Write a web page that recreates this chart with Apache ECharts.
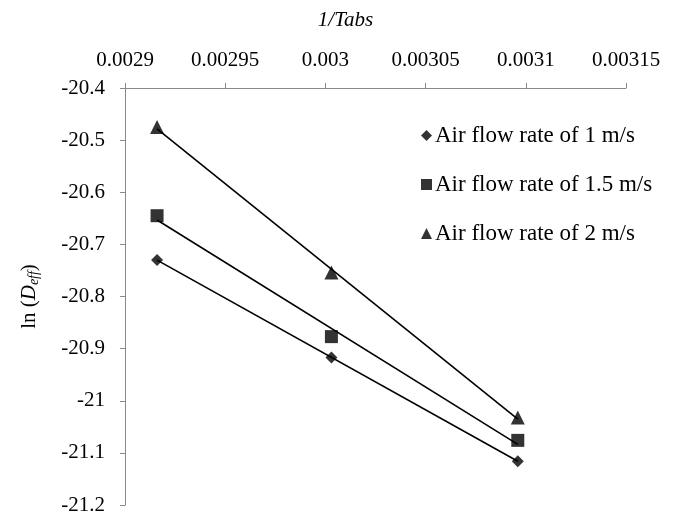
<!DOCTYPE html>
<html>
<head>
<meta charset="utf-8">
<script src="https://cdn.jsdelivr.net/npm/echarts@6/dist/echarts.min.js"></script>
<style>
html,body{margin:0;padding:0;background:#fff;}
#chart{width:677px;height:519px;}
</style>
</head>
<body>
<div id="chart"></div>
<script>
// 1/Tabs values (x)
const xValues = [0.002916, 0.003003, 0.003096];
// ln(Deff) values per air flow rate
const flow1 = [-20.730, -20.917, -21.116];
const flow15 = [-20.645, -20.877, -21.076];
const flow2 = [-20.475, -20.754, -21.032];
const seriesNames = ['Air flow rate of 1 m/s', 'Air flow rate of 1.5 m/s', 'Air flow rate of 2 m/s'];
const seriesSymbols = ['diamond', 'rect', 'triangle'];
const symbolSizes = [12, 13, 14];
const xMin = 0.0029, xMax = 0.00315, xStep = 0.00005;
const yMin = -21.2, yMax = -20.4, yStep = 0.1;

const allY = [flow1, flow15, flow2];

function fit(xs, ys) {
  const n = xs.length;
  const mx = xs.reduce((a, b) => a + b, 0) / n;
  const my = ys.reduce((a, b) => a + b, 0) / n;
  let sxy = 0, sxx = 0;
  for (let i = 0; i < n; i++) { sxy += (xs[i] - mx) * (ys[i] - my); sxx += (xs[i] - mx) * (xs[i] - mx); }
  const b = sxy / sxx;
  const a = my - b * mx;
  return x => a + b * x;
}

const fontFam = '"Liberation Serif", "Times New Roman", serif';
const series = [];
allY.forEach((ys, i) => {
  const f = fit(xValues, ys);
  const x0 = xValues[0], x1 = xValues[xValues.length - 1];
  series.push({
    type: 'line',
    data: [[x0, f(x0)], [x1, f(x1)]],
    showSymbol: false,
    symbol: 'none',
    lineStyle: { color: '#000', width: 1.6 },
    silent: true,
    z: 2
  });
});
allY.forEach((ys, i) => {
  series.push({
    name: seriesNames[i],
    type: 'scatter',
    symbol: seriesSymbols[i],
    symbolSize: symbolSizes[i],
    itemStyle: { color: '#000' },
    data: xValues.map((x, j) => [x, ys[j]]),
    z: 3
  });
});

const chart = echarts.init(document.getElementById('chart'));
chart.setOption({
  animation: false,
  backgroundColor: '#fff',
  textStyle: { fontFamily: fontFam },
  grid: { left: 125, right: 51, top: 88, bottom: 14, containLabel: false },
  legend: {
    orient: 'vertical',
    left: 416,
    top: 119,
    itemGap: 26,
    itemWidth: 11,
    itemHeight: 11,
    data: seriesNames.map((n, i) => ({ name: n, icon: seriesSymbols[i] })),
    textStyle: { fontFamily: fontFam, fontSize: 23, color: '#000', padding: [0, 0, 0, -2] }
  },
  xAxis: {
    type: 'value',
    position: 'top',
    min: xMin, max: xMax, interval: xStep,
    name: '1/Tabs',
    nameLocation: 'middle',
    nameGap: 57,
    nameTextStyle: { fontFamily: fontFam, fontSize: 21, fontStyle: 'italic', color: '#000', padding: [0, 60, 0, 0] },
    axisLine: { onZero: false, lineStyle: { color: '#898989', width: 1 } },
    axisTick: { show: true, length: 5, lineStyle: { color: '#898989' } },
    axisLabel: { margin: 17, fontFamily: fontFam, fontSize: 21, color: '#000',
      formatter: v => String(parseFloat(v.toPrecision(6))) },
    splitLine: { show: false }
  },
  yAxis: {
    type: 'value',
    min: yMin, max: yMax, interval: yStep,
    name: '{n|ln (}{d|D}{s|eff}{n|)}',
    nameLocation: 'middle',
    nameGap: 84,
    nameRotate: 90,
    nameTextStyle: {
      fontFamily: fontFam, fontSize: 21, color: '#000',
      rich: {
        n: { fontFamily: fontFam, fontSize: 21, color: '#000' },
        d: { fontFamily: fontFam, fontSize: 21, fontStyle: 'italic', color: '#000' },
        s: { fontFamily: fontFam, fontSize: 14, fontStyle: 'italic', color: '#000', verticalAlign: 'bottom', padding: [9, 0, 0, 0] }
      }
    },
    axisLine: { show: true, onZero: false, lineStyle: { color: '#898989', width: 1 } },
    axisTick: { show: true, length: 5, lineStyle: { color: '#898989' } },
    axisLabel: { margin: 20, fontFamily: fontFam, fontSize: 21, color: '#000',
      formatter: v => String(Math.round(v * 10) / 10) },
    splitLine: { show: false }
  },
  series: series
});
</script>
</body>
</html>
